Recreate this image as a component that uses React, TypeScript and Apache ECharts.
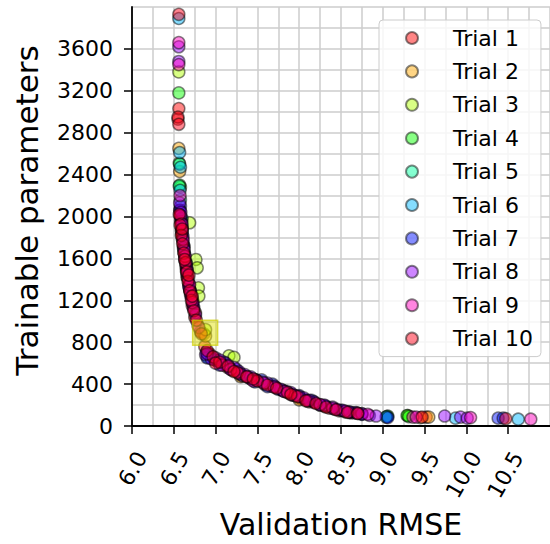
import React, { useEffect, useRef } from "react";
import * as echarts from "echarts";

const FONT = "DejaVu Sans";

const trialNames = ["Trial 1", "Trial 2", "Trial 3", "Trial 4", "Trial 5", "Trial 6", "Trial 7", "Trial 8", "Trial 9", "Trial 10"];
const trialColors = [
  "rgba(255,0,0,0.6)",
  "rgba(255,167,0,0.6)",
  "rgba(175,255,0,0.6)",
  "rgba(8,255,0,0.6)",
  "rgba(0,255,159,0.6)",
  "rgba(0,183,255,0.6)",
  "rgba(0,16,255,0.6)",
  "rgba(151,0,255,0.6)",
  "rgba(255,0,191,0.6)",
  "rgba(255,0,24,0.6)",
];

// [validation RMSE, trainable parameters]
const trial1: number[][] = [
  [6.55, 2930], [6.56, 3030], [6.57, 2060], [6.58, 1960], [6.59, 1870], [6.6, 1790], [6.615, 1700], [6.63, 1610],
  [6.645, 1520], [6.66, 1430], [6.68, 1340], [6.7, 1250], [6.72, 1150], [6.75, 1040], [6.79, 960], [6.87, 760],
  [6.93, 690], [7.02, 620], [7.1, 590], [7.2, 530], [7.32, 480], [7.42, 450], [7.58, 400], [7.66, 380], [7.8, 340],
  [7.92, 300], [8.02, 260], [8.12, 230], [8.25, 200], [8.36, 170], [8.48, 145], [8.62, 125], [8.75, 115], [9.52, 85],
  [6.575, 2010], [6.595, 1830], [6.62, 1660], [6.65, 1480], [6.69, 1300], [6.73, 1190], [6.76, 1080], [6.82, 900],
  [6.98, 640], [7.14, 560], [7.3, 500], [7.48, 440], [7.72, 370], [7.88, 310], [8.18, 225], [8.3, 190], [8.55, 135],
];
const trial2: number[][] = [
  [6.56, 2650], [6.57, 2430], [6.6, 1840], [6.66, 1420], [6.86, 880], [6.88, 860], [7.3, 470], [8.0, 250], [9.45, 80], [9.55, 85],
];
const trial3: number[][] = [
  [6.56, 3380], [6.58, 2280], [6.69, 1940], [6.765, 1590], [6.78, 1510], [6.795, 1320], [6.8, 1240], [6.88, 920],
  [7.16, 670], [7.22, 655], [9.3, 100],
];
const trial4: number[][] = [
  [6.56, 3180], [6.565, 2510], [6.57, 2300], [6.6, 1880], [9.06, 95], [9.29, 100], [9.31, 90],
];
const trial5: number[][] = [
  [6.565, 2290], [6.57, 2500], [6.58, 2160], [6.6, 1980], [6.62, 1720], [6.9, 660], [9.05, 90],
];
const trial6: number[][] = [
  [6.56, 3890], [6.57, 2610], [6.58, 2470], [6.575, 2250], [6.59, 1900], [6.92, 680], [9.87, 75], [10.62, 65], [9.04, 85],
];
const trial7: number[][] = [
  [6.58, 2100], [6.59, 1980], [6.61, 1810], [6.63, 1640], [6.66, 1490], [6.68, 1360], [6.72, 1220], [6.89, 700],
  [6.98, 630], [7.1, 610], [7.25, 540], [7.4, 460], [7.55, 440], [7.68, 400], [7.82, 330], [8.0, 290], [8.15, 245],
  [8.32, 190], [8.5, 150], [8.66, 125], [9.06, 80], [10.38, 75], [10.44, 75],
  [6.575, 2060], [6.6, 1900], [6.62, 1720], [6.65, 1560], [6.7, 1290], [6.74, 1130], [6.9, 650], [7.05, 580],
  [7.18, 545], [7.32, 480], [7.47, 420], [7.62, 375], [7.75, 350], [7.92, 295], [8.08, 250], [8.25, 200], [8.42, 160],
  [8.6, 130], [8.75, 110],
];
const trial8: number[][] = [
  [6.56, 3620], [6.56, 3480], [6.57, 2130], [6.59, 1950], [6.61, 1760], [6.63, 1590], [6.66, 1450], [6.69, 1300],
  [6.73, 1170], [6.88, 680], [6.95, 640], [7.0, 650], [7.12, 600], [7.22, 560], [7.35, 490], [7.48, 440], [7.62, 410],
  [7.78, 350], [7.9, 320], [8.05, 270], [8.18, 230], [8.4, 180], [8.52, 150], [8.68, 128], [8.84, 100], [8.92, 95],
  [9.74, 95], [9.93, 85], [10.01, 75],
  [6.585, 2040], [6.6, 1930], [6.62, 1700], [6.655, 1510], [6.68, 1330], [6.71, 1230], [6.76, 1060], [6.9, 690],
  [7.05, 630], [7.15, 580], [7.28, 520], [7.42, 470], [7.56, 420], [7.7, 380], [7.85, 330], [8.0, 280], [8.12, 245],
  [8.3, 200], [8.45, 160], [8.6, 135], [8.75, 118],
];
const trial9: number[][] = [
  [6.56, 3660], [6.56, 3450], [6.575, 2200], [6.58, 2010], [6.6, 1860], [6.625, 1680], [6.645, 1550], [6.67, 1410],
  [6.7, 1270], [6.735, 1120], [6.8, 940], [7.08, 580], [7.28, 500], [7.45, 430], [7.7, 370], [7.95, 290], [8.25, 205],
  [8.55, 140], [8.82, 112], [9.36, 85], [9.4, 85], [10.05, 80], [10.77, 65],
  [6.59, 1930], [6.61, 1780], [6.635, 1620], [6.66, 1480], [6.69, 1350], [6.72, 1180], [7.18, 540], [7.38, 470],
  [7.58, 410], [7.82, 330], [8.1, 240], [8.4, 170], [8.7, 120],
];
const trial10: number[][] = [
  [6.56, 3930], [6.55, 2950], [6.56, 2880], [6.565, 2020], [6.575, 1920], [6.59, 1820], [6.605, 1740], [6.62, 1650],
  [6.64, 1560], [6.655, 1470], [6.67, 1380], [6.69, 1290], [6.71, 1200], [6.74, 1100], [6.77, 1010], [6.83, 880],
  [6.9, 720], [6.97, 660], [7.05, 610], [7.15, 570], [7.26, 510], [7.37, 470], [7.5, 430], [7.62, 390], [7.73, 360],
  [7.86, 320], [7.98, 280], [8.08, 240], [8.2, 215], [8.32, 180], [8.44, 155], [8.58, 130], [8.7, 120], [9.47, 85],
  [10.47, 70], [6.6, 1880], [6.63, 1590], [6.68, 1440], [6.72, 1240], [7.0, 600], [7.22, 520], [7.45, 450], [7.9, 300],
];
const trialData = [trial1, trial2, trial3, trial4, trial5, trial6, trial7, trial8, trial9, trial10];

const bestPoint: number[][] = [[6.875, 890]];

export default function App() {
  const ref = useRef<HTMLDivElement>(null);
  useEffect(() => {
    if (!ref.current) return;
    const chart = echarts.init(ref.current, undefined, { renderer: "svg" });
    const gridColor = "#cccccc";
    const series: any[] = trialNames.map((name, i) => ({
      type: "scatter",
      name,
      data: trialData[i],
      symbol: "circle",
      symbolSize: 12,
      itemStyle: { color: trialColors[i], borderColor: "rgba(0,0,0,0.6)", borderWidth: 1.5 },
      z: 2,
    }));
    series.push({
      type: "scatter",
      name: "best",
      data: bestPoint,
      symbol: "rect",
      symbolSize: 25,
      itemStyle: { color: "rgba(225,225,0,0.6)", borderColor: "rgba(205,205,0,0.85)", borderWidth: 1.5 },
      z: 3,
    });
    chart.setOption({
      animation: false,
      grid: { left: 132, right: -4.5, top: 7, bottom: 117, containLabel: false },
      legend: {
        data: trialNames,
        orient: "vertical",
        left: 379,
        top: 20,
        padding: [7, 8, 7, 26],
        itemWidth: 12,
        itemHeight: 12,
        itemGap: 11.4,
        icon: "circle",
        backgroundColor: "rgba(255,255,255,0.8)",
        borderColor: "#cccccc",
        borderWidth: 1,
        borderRadius: 4,
        formatter: (name: string) => "{gap|}" + name,
        textStyle: {
          fontSize: 22,
          fontFamily: FONT,
          color: "#000",
          lineHeight: 22,
          rich: { gap: { width: 30, height: 22 } },
        },
      },
      xAxis: {
        type: "value",
        min: 6,
        max: 11,
        interval: 0.5,
        name: "Validation RMSE",
        nameLocation: "middle",
        nameGap: 83,
        nameTextStyle: { fontSize: 30, fontFamily: FONT, color: "#000" },
        axisLine: { show: true, onZero: false, lineStyle: { color: "#000", width: 1.8 } },
        axisTick: { show: true, length: 8, lineStyle: { color: "#000", width: 1.5 } },
        axisLabel: {
          rotate: 60,
          align: "right",
          verticalAlign: "top",
          margin: 22,
          fontSize: 22,
          fontFamily: FONT,
          color: "#000",
          showMaxLabel: false,
          formatter: (v: number) => v.toFixed(1),
        },
        splitLine: { show: true, lineStyle: { color: gridColor, width: 1.5 } },
        minorTick: { show: false, splitNumber: 2 },
        minorSplitLine: { show: true, lineStyle: { color: gridColor, width: 1.5 } },
      },
      yAxis: {
        type: "value",
        min: 0,
        max: 4000,
        interval: 400,
        name: "Trainable parameters",
        nameLocation: "middle",
        nameGap: 90,
        nameTextStyle: { fontSize: 31, fontFamily: FONT, color: "#000", padding: [0, 0, 0, 12] },
        axisLine: { show: true, onZero: false, lineStyle: { color: "#000", width: 1.8 } },
        axisTick: { show: true, length: 8, lineStyle: { color: "#000", width: 1.5 } },
        axisLabel: {
          margin: 19,
          fontSize: 22,
          fontFamily: FONT,
          color: "#000",
          showMaxLabel: false,
          formatter: (v: number) => String(v),
        },
        splitLine: { show: true, lineStyle: { color: gridColor, width: 1.5 } },
        minorTick: { show: false, splitNumber: 2 },
        minorSplitLine: { show: true, lineStyle: { color: gridColor, width: 1.5 } },
      },
      series,
    });
    return () => chart.dispose();
  }, []);
  return (
    <div
      ref={ref}
      style={{ position: "absolute", left: 0, top: 0, width: 550, height: 544, background: "#fff" }}
    />
  );
}
